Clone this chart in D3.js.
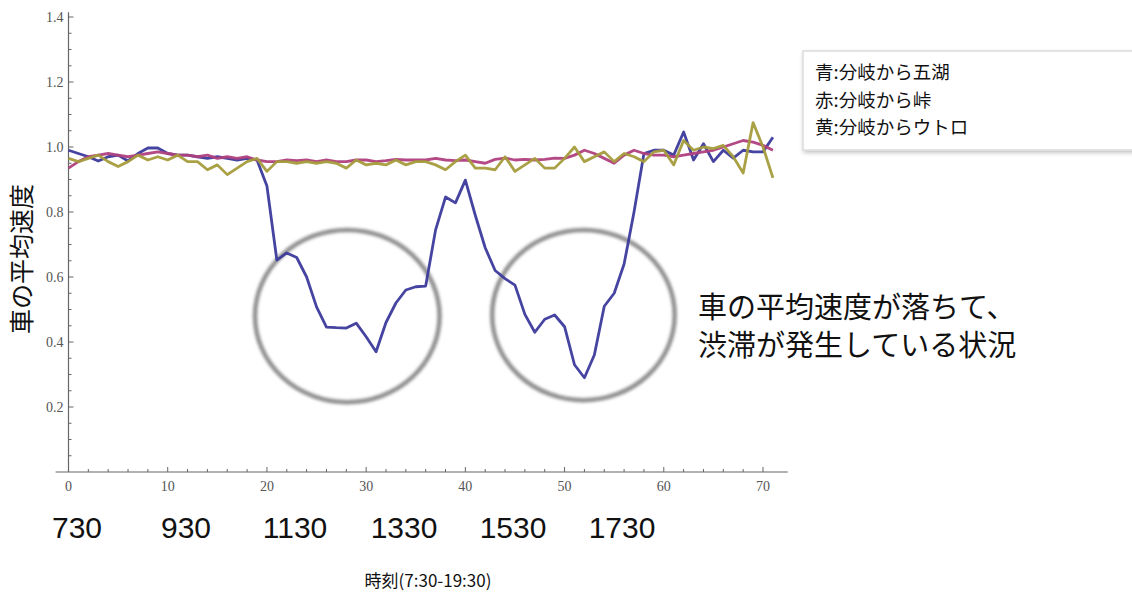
<!DOCTYPE html>
<html><head><meta charset="utf-8">
<script src="https://cdn.jsdelivr.net/npm/d3@7"></script>
<style>body{margin:0;background:#fff;}svg{display:block;}</style>
</head><body>
<svg id="c" width="1132" height="593"></svg>
<script>
// ---- data ----
const blue = [0.99,0.98,0.97,0.957,0.97,0.975,0.957,0.98,0.997,0.997,0.98,0.975,0.975,0.97,0.965,0.97,0.965,0.96,0.965,0.96,
  0.88,0.652,0.674,0.66,0.60,0.508,0.446,0.444,0.443,0.458,0.416,0.37,0.46,0.52,0.56,0.57,0.572,0.745,0.846,0.828,
  0.898,0.79,0.69,0.62,0.595,0.575,0.485,0.43,0.47,0.483,0.447,0.33,0.29,0.36,0.51,0.55,0.64,0.80,0.98,0.99,
  0.99,0.975,1.046,0.96,1.01,0.955,0.99,0.966,0.99,0.985,0.985,1.03];
const red = [0.935,0.955,0.97,0.975,0.98,0.975,0.97,0.975,0.98,0.985,0.98,0.975,0.975,0.97,0.975,0.965,0.97,0.965,0.97,0.96,
  0.955,0.955,0.96,0.958,0.96,0.955,0.96,0.955,0.955,0.96,0.96,0.955,0.958,0.962,0.96,0.96,0.96,0.965,0.96,0.958,
  0.96,0.955,0.95,0.962,0.966,0.96,0.962,0.96,0.962,0.966,0.965,0.975,0.99,0.98,0.965,0.95,0.975,0.99,0.98,0.975,
  0.975,0.97,0.975,0.98,0.985,0.99,1.0,1.01,1.02,1.015,1.005,0.99];
const yellow = [0.965,0.955,0.965,0.975,0.955,0.94,0.955,0.975,0.96,0.97,0.96,0.975,0.955,0.955,0.93,0.945,0.915,0.935,0.955,0.965,
  0.925,0.955,0.955,0.95,0.955,0.95,0.955,0.95,0.935,0.96,0.945,0.95,0.945,0.96,0.945,0.955,0.955,0.945,0.93,0.955,
  0.975,0.935,0.935,0.93,0.97,0.925,0.945,0.965,0.935,0.935,0.965,1.0,0.955,0.97,0.985,0.955,0.98,0.97,0.955,0.985,
  0.99,0.945,1.02,0.99,1.0,0.995,1.005,0.97,0.92,1.075,1.0,0.905];
const seriesNames = ["blue","red","yellow"];
const seriesColors = ["#3c3a9c","#b0407e","#a59c3c"];
const xTickLabels = [0,10,20,30,40,50,60,70];
const yTickLabels = [0.2,0.4,0.6,0.8,1.0,1.2,1.4];
const timeLabels = ["730","930","1130","1330","1530","1730"];
const legendLines = ["青:分岐から五湖","赤:分岐から峠","黄:分岐からウトロ"];
const noteLines = ["車の平均速度が落ちて、","渋滞が発生している状況"];
const yTitle = "車の平均速度";
const xTitle = "時刻(7:30-19:30)";
// circled regions in data units: [centerIndex, centerValue, radiusIndex, radiusValue]
const rings = [[28.1,0.48,9.3,0.265],[51.9,0.483,9.2,0.262]];

// ---- drawing ----
const svg = d3.select("#c");
const x = d3.scaleLinear().domain([0,70]).range([68.5,763]);
const y = d3.scaleLinear().domain([0,1.4]).range([472,17]);

const defs = svg.append("defs");
const f = defs.append("filter").attr("id","blur").attr("x","-20%").attr("y","-20%").attr("width","140%").attr("height","140%");
f.append("feGaussianBlur").attr("stdDeviation",1.6);
const sh = defs.append("filter").attr("id","shadow").attr("x","-10%").attr("y","-10%").attr("width","130%").attr("height","140%");
sh.append("feGaussianBlur").attr("in","SourceAlpha").attr("stdDeviation",2);
sh.append("feOffset").attr("dx",1).attr("dy",2).attr("result","b");
sh.append("feComponentTransfer").append("feFuncA").attr("type","linear").attr("slope",0.25);
const m = sh.append("feMerge"); m.append("feMergeNode"); m.append("feMergeNode").attr("in","SourceGraphic");

// axes
const axColor = "#666";
const gx = svg.append("g");
const xFull = d3.scaleLinear().domain([-1.3,72.5]).range([x(-1.3),x(72.5)]);
gx.append("line").attr("x1",xFull(-1.3)).attr("x2",xFull(72.5)).attr("y1",y(0)).attr("y2",y(0)).attr("stroke",axColor).attr("stroke-width",1.2);
gx.selectAll("line.t").data(d3.range(2,72,2)).join("line").attr("class","t")
  .attr("x1",d=>x(d)).attr("x2",d=>x(d)).attr("y1",y(0)).attr("y2",d=>y(0)-(d%10===0?5:3))
  .attr("stroke",axColor).attr("stroke-width",1);
gx.selectAll("text").data(xTickLabels).join("text")
  .attr("x",d=>x(d)).attr("y",y(0)+19).attr("text-anchor","middle")
  .attr("font-family","Liberation Serif, serif").attr("font-size",14).attr("fill","#555").text(d=>d);

const gy = svg.append("g");
gy.append("line").attr("x1",x(0)).attr("x2",x(0)).attr("y1",y(0)).attr("y2",y(1.415)).attr("stroke",axColor).attr("stroke-width",1.2);
gy.selectAll("line.t").data(d3.range(1,29).map(k=>k*0.05)).join("line").attr("class","t")
  .attr("x1",x(0)).attr("x2",(d,i)=>x(0)+((i+1)%4===0?5:3)).attr("y1",d=>y(d)).attr("y2",d=>y(d))
  .attr("stroke",axColor).attr("stroke-width",1);
gy.selectAll("text").data(yTickLabels).join("text")
  .attr("x",x(0)-5).attr("y",d=>y(d)+4.5).attr("text-anchor","end")
  .attr("font-family","Liberation Serif, serif").attr("font-size",14).attr("fill","#555").text(d=>d3.format(".1f")(d));

// rings
svg.append("g").attr("filter","url(#blur)").selectAll("ellipse").data(rings).join("ellipse")
  .attr("cx",d=>x(d[0])).attr("cy",d=>y(d[1]))
  .attr("rx",d=>x(d[2])-x(0)).attr("ry",d=>y(0)-y(d[3]))
  .attr("fill","none").attr("stroke","#8f8f8f").attr("stroke-width",4.5);

// lines
const line = d3.line().x((d,i)=>x(i)).y(d=>y(d));
[blue,red,yellow].forEach((s,k)=>{
  svg.append("path").datum(s).attr("d",line).attr("fill","none")
    .attr("stroke",seriesColors[k]).attr("stroke-width",2.8).attr("stroke-linejoin","round").attr("opacity",0.95);
});

// legend
const lg = svg.append("g");
lg.append("rect").attr("x",803).attr("y",51).attr("width",360).attr("height",99)
  .attr("fill","#fff").attr("stroke","#dcdcdc").attr("stroke-width",1.5).attr("filter","url(#shadow)");
lg.selectAll("text").data(legendLines).join("text")
  .attr("x",815).attr("y",(d,i)=>79+i*27.5)
  .attr("font-family","Noto Sans CJK JP").attr("font-size",18.5).attr("fill","#111").text(d=>d);

// note
svg.append("g").selectAll("text").data(noteLines).join("text")
  .attr("x",698).attr("y",(d,i)=>318+i*38)
  .attr("font-family","Noto Sans CJK JP").attr("font-size",29).attr("fill","#111").text(d=>d);

// time labels
const tp = d3.scalePoint().domain(timeLabels).range([77,622]);
svg.append("g").selectAll("text").data(timeLabels).join("text")
  .attr("x",d=>tp(d)).attr("y",538).attr("text-anchor","middle")
  .attr("font-family","Liberation Sans, Arial, sans-serif").attr("font-size",30).attr("fill","#111").text(d=>d);

// titles
svg.append("text").attr("transform","translate(31,259) rotate(-90)").attr("text-anchor","middle")
  .attr("font-family","Noto Sans CJK JP").attr("font-size",25).attr("fill","#111").text(yTitle);
svg.append("text").attr("x",428).attr("y",587).attr("text-anchor","middle")
  .attr("font-family","Noto Sans CJK JP, Open Sans").attr("font-size",17).attr("fill","#111").text(xTitle);
</script>
</body></html>
